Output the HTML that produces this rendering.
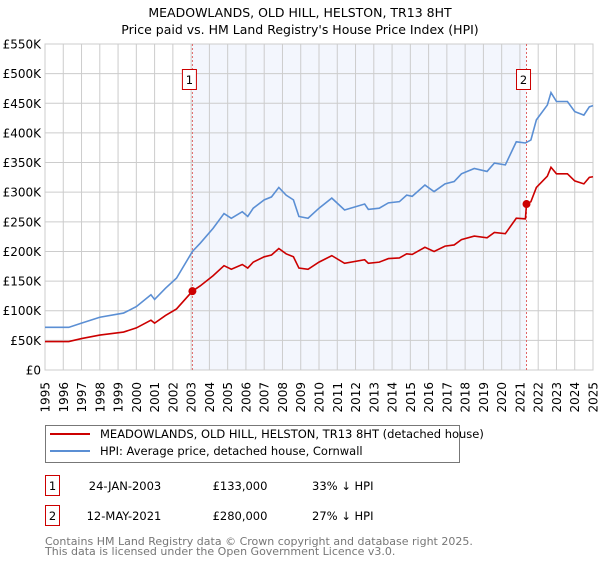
<!DOCTYPE html>
<html><head><meta charset="utf-8"><style>
body{margin:0;background:#fff;font-family:"DejaVu Sans","Liberation Sans",sans-serif;}
</style></head><body>
<svg width="600" height="560" xmlns="http://www.w3.org/2000/svg" font-family="DejaVu Sans, Liberation Sans, sans-serif">
<text x="300" y="17" text-anchor="middle" font-size="12.5">MEADOWLANDS, OLD HILL, HELSTON, TR13 8HT</text>
<text x="300" y="34" text-anchor="middle" font-size="12.5">Price paid vs. HM Land Registry's House Price Index (HPI)</text>
<g id="plot"></g>
<g>
<rect x="45.5" y="425.5" width="414" height="37" fill="#fff" stroke="#777"/>
<line x1="50" y1="434" x2="90" y2="434" stroke="#cc0000" stroke-width="2"/>
<text x="100" y="438" font-size="11.5">MEADOWLANDS, OLD HILL, HELSTON, TR13 8HT (detached house)</text>
<line x1="50" y1="451" x2="90" y2="451" stroke="#5b8fd4" stroke-width="2"/>
<text x="100" y="455" font-size="11.5">HPI: Average price, detached house, Cornwall</text>
</g>
<g font-size="11.5">
<rect x="45.5" y="475.5" width="14" height="20" fill="none" stroke="#cc0000"/>
<text x="52.5" y="490" text-anchor="middle">1</text>
<text x="125" y="490" text-anchor="middle">24-JAN-2003</text>
<text x="240" y="490" text-anchor="middle">£133,000</text>
<text x="312" y="490">33% ↓ HPI</text>
<rect x="45.5" y="505.5" width="14" height="20" fill="none" stroke="#cc0000"/>
<text x="52.5" y="520" text-anchor="middle">2</text>
<text x="124" y="520" text-anchor="middle">12-MAY-2021</text>
<text x="240" y="520" text-anchor="middle">£280,000</text>
<text x="312" y="520">27% ↓ HPI</text>
</g>
<text x="45" y="545" font-size="11" fill="#777">Contains HM Land Registry data © Crown copyright and database right 2025.</text>
<text x="45" y="555" font-size="11" fill="#777">This data is licensed under the Open Government Licence v3.0.</text>
</svg>
<script>
const hpiYears=[1995,1996.3,1997,1998,1999.3,2000,2000.8,2001,2001.6,2002.2,2003.07,2003.5,2004.2,2004.8,2005.2,2005.8,2006.1,2006.4,2007,2007.4,2007.8,2008.2,2008.6,2008.9,2009.4,2010,2010.7,2011.4,2012.5,2012.7,2013.3,2013.8,2014.4,2014.8,2015.1,2015.8,2016.3,2016.9,2017.4,2017.8,2018.5,2019.2,2019.6,2020.2,2020.8,2021.3,2021.6,2021.9,2022.5,2022.7,2023.0,2023.6,2024.0,2024.5,2024.8,2025];
const hpiValues=[72,72,79,89,96,107,127,119,138,155,200,214,239,264,256,267,259,273,287,292,308,295,287,259,256,273,290,270,280,271,273,282,284,295,293,312,301,314,318,331,340,335,349,346,385,383,388,422,447,468,453,453,436,430,444,446];
const priceYears=[1995,1996.3,1997,1998,1999.3,2000,2000.8,2001,2001.6,2002.2,2003.07,2003.5,2004.2,2004.8,2005.2,2005.8,2006.1,2006.4,2007,2007.4,2007.8,2008.2,2008.6,2008.9,2009.4,2010,2010.7,2011.4,2012.5,2012.7,2013.3,2013.8,2014.4,2014.8,2015.1,2015.8,2016.3,2016.9,2017.4,2017.8,2018.5,2019.2,2019.6,2020.2,2020.8,2021.3,2021.36,2021.6,2021.9,2022.5,2022.7,2023.0,2023.6,2024.0,2024.5,2024.8,2025];
const priceValues=[48,48,53,59,64,71,84,79,92,103,133,142,159,176,170,178,172,182,191,194,205,196,191,172,170,182,193,180,186,180,182,188,189,196,195,207,200,209,211,220,226,223,232,230,256,255,280,284,308,327,342,331,331,319,314,325,326];
const saleYears=[2003.07,2021.36];
const saleValues=[133,280];
const saleLabels=["1","2"];
const yTicks=[0,50,100,150,200,250,300,350,400,450,500,550];
const yTickLabels=["£0","£50K","£100K","£150K","£200K","£250K","£300K","£350K","£400K","£450K","£500K","£550K"];
const xTicks=[1995,1996,1997,1998,1999,2000,2001,2002,2003,2004,2005,2006,2007,2008,2009,2010,2011,2012,2013,2014,2015,2016,2017,2018,2019,2020,2021,2022,2023,2024,2025];

const X0=45,X1=593,Y0=370,Y1=44;
const xs=y=>X0+(y-1995)/30*(X1-X0);
const ys=v=>Y0-v/550*(Y0-Y1);
const NS="http://www.w3.org/2000/svg";
const g=document.getElementById('plot');
function mk(t,a,p){const e=document.createElementNS(NS,t);for(const k in a)e.setAttribute(k,a[k]);(p||g).appendChild(e);return e;}
const shade=mk('rect',{x:xs(saleYears[0]),y:Y1,width:xs(saleYears[1])-xs(saleYears[0]),height:Y0-Y1,fill:'#f3f6fd'});


yTicks.forEach((t,i)=>{
 const l=mk('line',{x1:X0,x2:X1,y1:ys(t),y2:ys(t),stroke:'#cccccc'});
 
 
 const tx=mk('text',{x:X0-4,y:ys(t)+4.5,'text-anchor':'end','font-size':'12'});
 tx.textContent=yTickLabels[i];
 
 
});
xTicks.forEach(t=>{
 const l=mk('line',{x1:xs(t),x2:xs(t),y1:Y1,y2:Y0,stroke:'#cccccc'});
 
 
 const gg=mk('g',{transform:'translate('+(xs(t)+4.5)+',382) rotate(-90)'});
 const tx=mk('text',{x:0,y:0,'text-anchor':'end','font-size':'12'},gg);
 tx.textContent=t;
 
 
});
const bd=mk('rect',{x:X0,y:Y1,width:X1-X0,height:Y0-Y1,fill:'none',stroke:'#cccccc'});


saleYears.forEach((s,i)=>{
 const l=mk('line',{x1:xs(s),x2:xs(s),y1:Y1,y2:Y0,stroke:'#e06666','stroke-dasharray':'2,2'});
 
 
 const r=mk('rect',{x:xs(s)-10,y:69.5,width:14,height:20,fill:'#fff',stroke:'#cc0000'});
 
 
 const tx=mk('text',{x:xs(s)-3,y:84,'text-anchor':'middle','font-size':'11.5'});
 tx.textContent=saleLabels[i];
 
 
});
const hp=mk('polyline',{points:hpiYears.map((y,i)=>xs(y)+','+ys(hpiValues[i])).join(' '),fill:'none',stroke:'#5b8fd4','stroke-width':'1.6'});


const pp=mk('polyline',{points:priceYears.map((y,i)=>xs(y)+','+ys(priceValues[i])).join(' '),fill:'none',stroke:'#cc0000','stroke-width':'1.6'});


saleYears.forEach((s,i)=>{
 const c=mk('circle',{cx:xs(s),cy:ys(saleValues[i]),r:4,fill:'#cc0000'});
 
 
});
</script>
</body></html>
